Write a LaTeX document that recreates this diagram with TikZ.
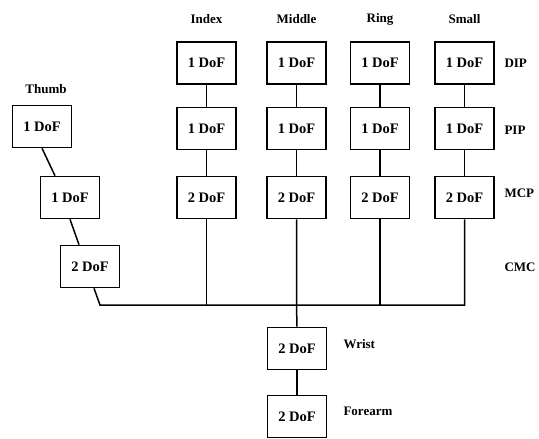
\documentclass[tikz,border=0pt]{standalone}
\usepackage{fontspec}
\setmainfont{Liberation Serif}
\usepackage{tikz}
\usepackage{xcolor}
\tikzset{
    dof-box/.style = {draw=black, fill=white, line width=1.6pt, rectangle, minimum width=59pt, minimum height=42pt, inner sep=0pt, font=\fontsize{14.5}{16}\selectfont\bfseries},
    finger-label/.style = {font=\fontsize{13}{15}\selectfont\bfseries},
    joint-label/.style = {anchor=west, font=\fontsize{13}{15}\selectfont\bfseries},
    link/.style = {draw=black, line width=1.5pt},
}

\begin{document}
\begin{tikzpicture}[x=1pt, y=-1pt]
\useasboundingbox (0,0) rectangle (539,439);
% fingers
\node[dof-box] (index-dip) at (206.5,63) {1 DoF};
\node[dof-box] (index-pip) at (206.5,128.5) {1 DoF};
\node[dof-box] (index-mcp) at (206.5,197.5) {2 DoF};
\node[dof-box] (middle-dip) at (296.5,63) {1 DoF};
\node[dof-box] (middle-pip) at (296.5,128.5) {1 DoF};
\node[dof-box] (middle-mcp) at (296.5,197.5) {2 DoF};
\node[dof-box] (ring-dip) at (380,63) {1 DoF};
\node[dof-box] (ring-pip) at (380,128.5) {1 DoF};
\node[dof-box] (ring-mcp) at (380,197.5) {2 DoF};
\node[dof-box] (small-dip) at (464.5,63) {1 DoF};
\node[dof-box] (small-pip) at (464.5,128.5) {1 DoF};
\node[dof-box] (small-mcp) at (464.5,197.5) {2 DoF};
% thumb
\node[dof-box] (thumb-a) at (42,126.5) {1 DoF};
\node[dof-box] (thumb-b) at (70,197.5) {1 DoF};
\node[dof-box] (thumb-c) at (90,266.5) {2 DoF};
% wrist and forearm
\node[dof-box] (wrist) at (297,348.5) {2 DoF};
\node[dof-box] (forearm) at (297,416.5) {2 DoF};

% labels
\node[finger-label] (index-label) at (206.5,19) {Index};
\node[finger-label] (middle-label) at (296.5,19) {Middle};
\node[finger-label] (ring-label) at (380,19) {Ring};
\node[finger-label] (small-label) at (464.5,19) {Small};
\node[finger-label] (thumb-label) at (46,89) {Thumb};
\node[joint-label] (dip-label) at (501,63) {DIP};
\node[joint-label] (pip-label) at (501,130) {PIP};
\node[joint-label] (mcp-label) at (501,193) {MCP};
\node[joint-label] (cmc-label) at (501,267) {CMC};
\node[joint-label] (wrist-label) at (340,344) {Wrist};
\node[joint-label] (forearm-label) at (340,411) {Forearm};

% palm bar
\coordinate (bar-west) at (100,305);
\coordinate (bar-middle) at (middle-mcp.south |- bar-west);

\path[link] (index-dip) -- (index-pip) -- (index-mcp);
\path[link] (middle-dip) -- (middle-pip) -- (middle-mcp);
\path[link] (ring-dip) -- (ring-pip) -- (ring-mcp);
\path[link] (small-dip) -- (small-pip) -- (small-mcp);
\path[link] (thumb-a.south) -- ([xshift=-15pt]thumb-b.north);
\path[link] (thumb-b.south) -- ([xshift=-11pt]thumb-c.north);
\path[link] ([xshift=4pt]thumb-c.south) -- (bar-west) -| (small-mcp.south);
\path[link] (index-mcp.south) -- (index-mcp.south |- bar-west);
\path[link] (ring-mcp.south) -- (ring-mcp.south |- bar-west);
\path[link] (middle-mcp.south) -- (bar-middle) -- (wrist.north);
\path[link] (wrist) -- (forearm);
\end{tikzpicture}
\end{document}
